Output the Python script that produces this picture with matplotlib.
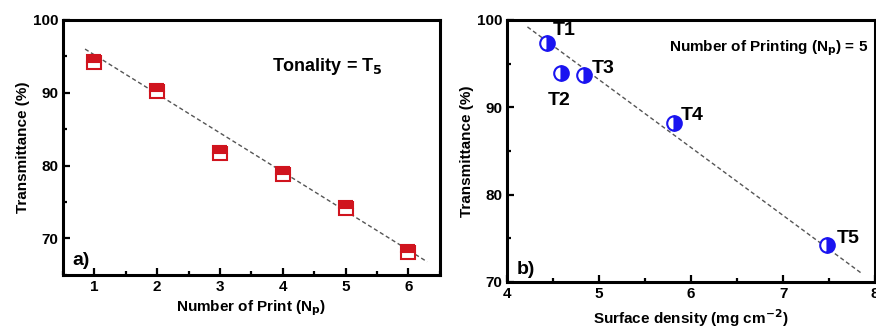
import matplotlib
matplotlib.use("Agg")
import matplotlib.pyplot as plt
from matplotlib.ticker import MultipleLocator

plt.rcParams['font.family'] = ['Liberation Sans', 'DejaVu Sans']
plt.rcParams['font.weight'] = 'bold'
plt.rcParams['mathtext.default'] = 'bf'

# Panel a data
n_print = [1, 2, 3, 4, 5, 6]
trans_a = [94.2, 90.3, 81.7, 78.9, 74.2, 68.1]
fit_a_x = [0.85, 6.3]
fit_a_y = [96.0, 66.8]

# Panel b data
surf_density = [4.43, 4.59, 4.84, 5.81, 7.48]
trans_b = [97.3, 93.9, 93.7, 88.2, 74.2]
labels_b = ["T1", "T2", "T3", "T4", "T5"]
label_offsets = [(0.07, 1.0), (-0.15, -3.6), (0.08, 0.2), (0.08, 0.3), (0.1, 0.3)]
fit_b_x = [4.22, 7.85]
fit_b_y = [99.2, 71.0]

fig = plt.figure(figsize=(8.76, 3.32), dpi=100)
ax1 = fig.add_axes([0.072, 0.172, 0.430, 0.768])
ax2 = fig.add_axes([0.579, 0.151, 0.420, 0.789])

red = '#d0141e'
blue = '#1a14f0'

def style(ax):
    for s in ax.spines.values():
        s.set_linewidth(2.2)
    ax.tick_params(which='both', direction='in', top=False, right=False,
                   labelsize=11, width=1.6)
    ax.tick_params(which='major', length=5)
    ax.tick_params(which='minor', length=3)
    for lab in ax.get_xticklabels() + ax.get_yticklabels():
        lab.set_fontweight('bold')

# Panel a
ax1.plot(fit_a_x, fit_a_y, linestyle=(0, (3, 2)), color='#555555', lw=1.0, zorder=1)
ax1.plot(n_print, trans_a, linestyle='none', marker='s', markersize=9.5,
         fillstyle='top', color=red, markeredgecolor=red, markerfacecoloralt='white',
         markeredgewidth=1.5, zorder=3)
ax1.set_xlim(0.5, 6.5)
ax1.set_ylim(65, 100)
ax1.xaxis.set_major_locator(MultipleLocator(1))
ax1.xaxis.set_minor_locator(MultipleLocator(0.5))
ax1.yaxis.set_major_locator(MultipleLocator(10))
ax1.yaxis.set_minor_locator(MultipleLocator(5))
ax1.set_xlabel('Number of Print (N$_\\mathbf{p}$)', fontsize=11, fontweight='bold', labelpad=3)
ax1.set_ylabel('Transmittance (%)', fontsize=11, fontweight='bold', labelpad=2)
ax1.text(0.555, 0.80, 'Tonality = T$_\\mathbf{5}$', transform=ax1.transAxes,
         fontsize=13, fontweight='bold')
ax1.text(0.025, 0.04, 'a)', transform=ax1.transAxes, fontsize=14, fontweight='bold')
style(ax1)

# Panel b
ax2.plot(fit_b_x, fit_b_y, linestyle=(0, (3, 2)), color='#555555', lw=1.0, zorder=1)
ax2.plot(surf_density, trans_b, linestyle='none', marker='o', markersize=10.5,
         fillstyle='right', color=blue, markeredgecolor=blue, markerfacecoloralt='white',
         markeredgewidth=1.5, zorder=3)
for x, y, lab, (dx, dy) in zip(surf_density, trans_b, labels_b, label_offsets):
    ax2.text(x + dx, y + dy, lab, fontsize=14, fontweight='bold')
ax2.set_xlim(4, 8)
ax2.set_ylim(70, 100)
ax2.xaxis.set_major_locator(MultipleLocator(1))
ax2.xaxis.set_minor_locator(MultipleLocator(0.5))
ax2.yaxis.set_major_locator(MultipleLocator(10))
ax2.yaxis.set_minor_locator(MultipleLocator(5))
ax2.set_xlabel('Surface density (mg cm$^{\\mathbf{-2}}$)', fontsize=11, fontweight='bold', labelpad=5)
ax2.set_ylabel('Transmittance (%)', fontsize=11, fontweight='bold', labelpad=2)
ax2.text(0.44, 0.88, 'Number of Printing (N$_\\mathbf{p}$) = 5', transform=ax2.transAxes,
         fontsize=11, fontweight='bold')
ax2.text(0.025, 0.03, 'b)', transform=ax2.transAxes, fontsize=14, fontweight='bold')
style(ax2)

fig.savefig('out.png', dpi=100)
